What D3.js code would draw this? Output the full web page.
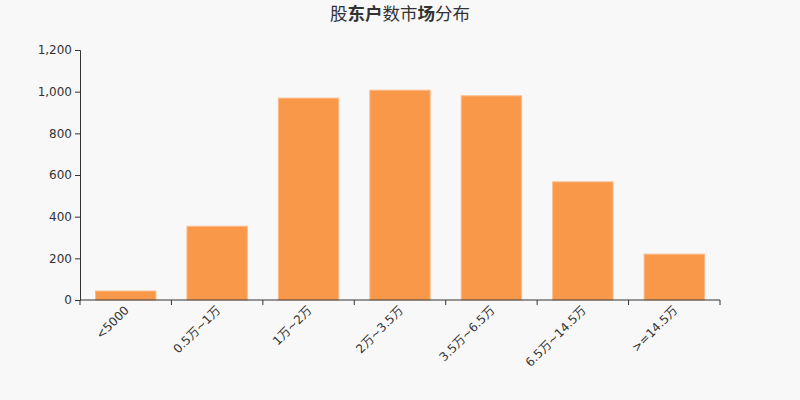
<!DOCTYPE html>
<html><head>
<meta charset="utf-8">
<script src="https://d3js.org/d3.v7.min.js"></script>
<style>
  body { margin: 0; background: #f8f8f8; }
  svg { display: block; font-family: "DejaVu Sans", "Noto Sans CJK SC", sans-serif; }
</style>
</head>
<body>
<svg id="chart" width="800" height="400"></svg>
<script>
// categories and values
const categories = ["<5000", "0.5万~1万", "1万~2万", "2万~3.5万", "3.5万~6.5万", "6.5万~14.5万", ">=14.5万"];
const holders = [43, 354, 969, 1007, 980, 567, 220];
const yTicks = [0, 200, 400, 600, 800, 1000, 1200];

const svg = d3.select("#chart");
const width = +svg.attr("width");
const height = +svg.attr("height");
const margin = {top: 50, right: 80, bottom: 100, left: 80};

svg.append("rect").attr("width", width).attr("height", height).attr("fill", "#f8f8f8");

// title, with some glyphs bold like the original
const title = svg.append("text")
  .attr("x", width / 2).attr("y", 20)
  .attr("text-anchor", "middle")
  .attr("font-size", 17.5)
  .attr("fill", "#333")
  .style("font-family", "'Noto Sans CJK SC', sans-serif");
[["股", 400], ["东户", 700], ["数市", 400], ["场", 700], ["分布", 400]].forEach(p => {
  title.append("tspan").attr("font-weight", p[1]).text(p[0]);
});

const x = d3.scaleBand().domain(categories)
  .range([margin.left, width - margin.right])
  .paddingInner(0.34).paddingOuter(0.17);

const y = d3.scaleLinear().domain([0, 1200])
  .range([height - margin.bottom, margin.top]);

// bars
svg.append("g").selectAll("rect").data(categories)
  .join("rect")
  .attr("x", d => x(d))
  .attr("width", x.bandwidth())
  .attr("y", (d, i) => y(holders[i]))
  .attr("height", (d, i) => y(0) - y(holders[i]))
  .attr("fill", "#f89848")
  .attr("stroke", "#fbb98a")
  .attr("stroke-width", 1);

// y axis
const yAxis = svg.append("g")
  .attr("transform", "translate(" + margin.left + ",0)")
  .call(d3.axisLeft(y).tickValues(yTicks).tickSize(5).tickPadding(3).tickFormat(d3.format(",")));

// x axis: ticks on band boundaries, labels at band centres
const bounds = d3.range(categories.length + 1).map(i => margin.left + i * (width - margin.left - margin.right) / categories.length);
const xAxis = svg.append("g").attr("transform", "translate(0," + y(0) + ")");
xAxis.append("line")
  .attr("x1", margin.left).attr("x2", width - margin.right)
  .attr("stroke", "#333");
xAxis.selectAll("line.tick").data(bounds).join("line")
  .attr("class", "tick")
  .attr("x1", d => d).attr("x2", d => d)
  .attr("y1", 0).attr("y2", 5)
  .attr("stroke", "#333");
xAxis.selectAll("text").data(categories).join("text")
  .attr("transform", d => "translate(" + (x(d) + x.bandwidth() / 2 + 4) + ",11) rotate(-45)")
  .attr("text-anchor", "end")
  .attr("font-size", 12)
  .attr("fill", "#333")
  .text(d => d);

[yAxis].forEach(a => {
  a.select(".domain").attr("stroke", "#333");
  a.selectAll(".tick line").attr("stroke", "#333");
  a.selectAll(".tick text").attr("font-size", 12).attr("fill", "#333")
    .style("font-family", "'DejaVu Sans', sans-serif");
});
</script>
</body>
</html>
